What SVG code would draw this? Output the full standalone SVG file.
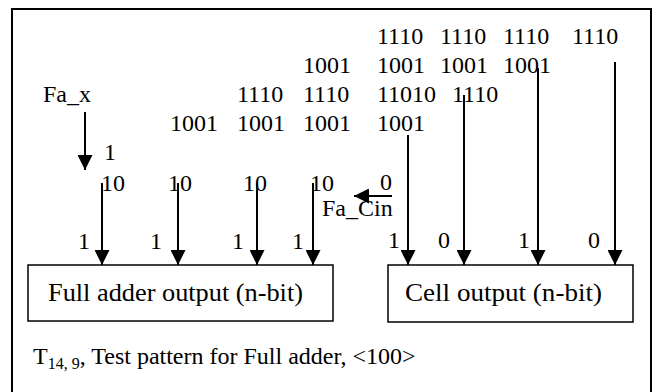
<svg xmlns="http://www.w3.org/2000/svg" width="660" height="392" viewBox="0 0 660 392">
<defs>
<style>
text{font-family:"Liberation Serif","Times New Roman",serif;font-size:24px;fill:#000}
.lbl{font-size:26px}
.ln{stroke:#000;stroke-width:2;fill:none}
.box{stroke:#000;stroke-width:1.5;fill:#fff}
</style>
<marker id="ah" viewBox="0 0 10 10" refX="10" refY="5" markerWidth="15" markerHeight="15" markerUnits="userSpaceOnUse" orient="auto">
<path d="M0,0 L10,5 L0,10 z" fill="#000"/>
</marker>
</defs>
<rect width="660" height="392" fill="#fff"/>
<rect x="12" y="9" width="639" height="420" fill="none" stroke="#000" stroke-width="2"/>
<g id="rows">
<text x="377" y="44">1110</text><text x="440" y="44">1110</text><text x="503" y="44">1110</text><text x="572" y="44">1110</text>
<text x="303" y="73">1001</text><text x="377" y="73">1001</text><text x="440" y="73">1001</text><text x="503" y="73">1001</text>
<text x="43" y="102">Fa_x</text>
<text x="237" y="102">1110</text><text x="303" y="102">1110</text><text x="377" y="102">11010</text><text x="452" y="102">1110</text>
<text x="170" y="131">1001</text><text x="237" y="131">1001</text><text x="303" y="131">1001</text><text x="377" y="131">1001</text>
<text x="104" y="160">1</text>
<text x="101" y="191">10</text><text x="168" y="191">10</text><text x="243" y="191">10</text><text x="310" y="191">10</text>
<text x="380" y="190">0</text>
<text x="322" y="216">Fa_Cin</text>
<text x="78" y="249">1</text><text x="150" y="249">1</text><text x="232" y="249">1</text><text x="292" y="249">1</text>
<text x="388" y="248">1</text><text x="438" y="248">0</text><text x="518" y="248">1</text><text x="588" y="248">0</text>
</g>
<g id="connectors">
<line class="ln" x1="85" y1="112" x2="85" y2="170" marker-end="url(#ah)"/>
<line class="ln" x1="392" y1="196" x2="354" y2="196" marker-end="url(#ah)"/>
<line class="ln" x1="102" y1="183" x2="102" y2="265" marker-end="url(#ah)"/>
<line class="ln" x1="178" y1="183" x2="178" y2="265" marker-end="url(#ah)"/>
<line class="ln" x1="257" y1="183" x2="257" y2="265" marker-end="url(#ah)"/>
<line class="ln" x1="313" y1="183" x2="313" y2="265" marker-end="url(#ah)"/>
<line class="ln" x1="408" y1="135" x2="408" y2="265" marker-end="url(#ah)"/>
<line class="ln" x1="464" y1="95" x2="464" y2="265" marker-end="url(#ah)"/>
<line class="ln" x1="538" y1="68" x2="538" y2="265" marker-end="url(#ah)"/>
<line class="ln" x1="615" y1="62" x2="615" y2="265" marker-end="url(#ah)"/>
</g>
<g id="fa_box">
<rect class="box" x="28" y="265" width="305" height="56"/>
<text class="lbl" x="48" y="301" textLength="255" lengthAdjust="spacingAndGlyphs">Full adder output (n-bit)</text>
</g>
<g id="cell_box">
<rect class="box" x="388" y="265" width="245" height="57"/>
<text class="lbl" x="405" y="301" textLength="197" lengthAdjust="spacingAndGlyphs">Cell output (n-bit)</text>
</g>
<g id="caption">
<text x="33" y="364" font-size="25">T<tspan font-size="16" dy="5">14, 9</tspan><tspan dy="-5">, Test pattern for Full adder, &lt;100&gt;</tspan></text>
</g>
</svg>
